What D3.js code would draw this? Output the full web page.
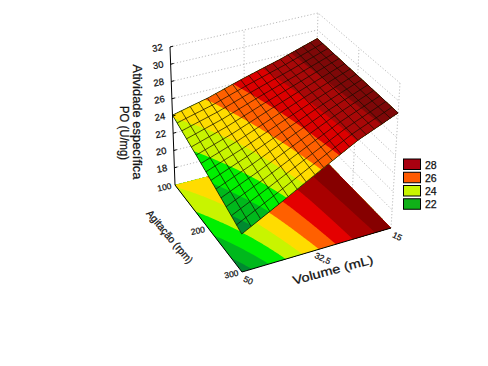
<!DOCTYPE html>
<html>
<head>
<meta charset="utf-8">
<script src="https://cdn.jsdelivr.net/npm/d3@7"></script>
<style>
  html, body { margin: 0; padding: 0; background: #fff; }
  svg { display: block; }
  text { font-family: "Liberation Sans", Arial, sans-serif; fill: #111; stroke: #111; stroke-width: 0.25; }
</style>
</head>
<body>
<script>
// values
var agitacao = [100, 200, 300];
var volume = [50, 41.25, 32.5, 23.75, 15];
var atividade = [
  [24.1, 25.1, 26.4, 27.6, 29.0],
  [22.3, 23.85, 25.6, 27.3, 28.85],
  [20.4, 22.6, 24.85, 27.05, 28.7]
];
var zTicks = [18, 20, 22, 24, 26, 28, 30, 32];
var agitTicks = [100, 200, 300];
var volTicks = [50, 32.5, 15];
var volTickLabels = ['50', '32,5', '15'];
var niveis = [0, 21, 22, 23, 24, 25, 26, 27, 28];
var cores = ['#008a30', '#00b81c', '#00f000', '#c8f400', '#ffdc00', '#ff6000', '#e40000', '#a80000', '#860000'];
var coresSuperficie = ['#008a30', '#00b81c', '#00f000', '#c8f400', '#ffdc00', '#ff6000', '#dc0000', '#a80808', '#7e0808'];
var legendaValores = [28, 26, 24, 22];
var legendaCores = ['#a80010', '#ff5a00', '#c8f400', '#10b018'];

var svg = d3.select('body').append('svg').attr('width', 488).attr('height', 366);

/**
 * box corners on screen, [agitacao 0/1][volume 0/1][z 0/1]
 */
var canto = {
  '000': [175, 185], '001': [170, 47],
  '010': [314, 149], '011': [318, 13],
  '100': [242, 272], '101': [241, 134],
  '110': [391, 228], '111': [400, 83]
};

var uScale = d3.scaleLinear().domain([100, 300]).range([0, 1]);
var vScale = d3.scaleLinear().domain([50, 15]).range([0, 1]);
var wScale = d3.scaleLinear().domain([16, 32]).range([0, 1]);

function project(a, v, z) {
  var u = uScale(a), t = vScale(v), w = wScale(z), p = [0, 0];
  d3.range(8).forEach(function (i) {
    var b = [i >> 2 & 1, i >> 1 & 1, i & 1];
    var k = (b[0] ? u : 1 - u) * (b[1] ? t : 1 - t) * (b[2] ? w : 1 - w);
    var c = canto[b.join('')];
    p[0] += k * c[0];
    p[1] += k * c[1];
  });
  return p;
}

var linhas = atividade.map(function (row) {
  return d3.scaleLinear().domain(volume).range(row);
});

function zAt(a, v) {
  return d3.scaleLinear().domain(agitacao).range(linhas.map(function (l) { return l(v); }))(a);
}

var line = d3.line();

/**
 * dotted walls
 */
function dotted(pts) {
  svg.append('path').attr('d', line(pts)).attr('fill', 'none')
    .attr('stroke', '#bcbcbc').attr('stroke-width', 1).attr('stroke-dasharray', '1.2,2');
}

zTicks.concat([16]).forEach(function (z) {
  dotted([project(100, 50, z), project(100, 15, z), project(300, 15, z)]);
});
dotted([project(100, 15, 16), project(100, 15, 32)]);
dotted([project(300, 15, 16), project(300, 15, 32)]);
dotted([project(100, 32.5, 16), project(100, 32.5, 32)]);
dotted([project(200, 15, 16), project(200, 15, 32)]);

/**
 * bands through d3.contours, on the floor and on the surface
 */
var n = 90;
var aGrid = d3.scaleLinear().domain([0.5, n - 0.5]).range([100, 300]).clamp(true);
var vGrid = d3.scaleLinear().domain([0.5, n - 0.5]).range([50, 15]).clamp(true);
var campo = [];
d3.range(n).forEach(function (j) {
  d3.range(n).forEach(function (i) {
    campo.push(zAt(aGrid(j + 0.5), vGrid(i + 0.5)));
  });
});
var bandas = d3.contours().size([n, n]).thresholds(niveis).smooth(true)(campo);

function bandPath(b, flat) {
  return b.coordinates.map(function (poly) {
    return poly.map(function (ring) {
      return line(ring.map(function (c) {
        var a = aGrid(c[1]), v = vGrid(c[0]);
        return project(a, v, flat ? 16 : zAt(a, v));
      })) + 'Z';
    }).join('');
  }).join('');
}

bandas.forEach(function (b, i) {
  svg.append('path').attr('d', bandPath(b, true)).attr('fill', cores[i]).attr('fill-rule', 'evenodd');
});

// black edges of the floor
svg.append('path')
  .attr('d', line([project(100, 50, 16), project(300, 50, 16), project(300, 15, 16)]))
  .attr('fill', 'none').attr('stroke', '#000').attr('stroke-width', 1);

bandas.forEach(function (b, i) {
  svg.append('path').attr('d', bandPath(b, false)).attr('fill', coresSuperficie[i]).attr('fill-rule', 'evenodd');
});

/**
 * mesh on the surface, cells get smaller toward the back
 */
var aMesh = d3.range(15).map(function (i) {
  var t = i / 14;
  return 100 + 200 * (0.92 * t + 0.08 * t * t);
});
var vMesh = d3.range(19).map(function (i) {
  var t = i / 18;
  return 50 - 35 * (1.13 * t - 0.13 * t * t);
});
var fino = d3.range(33).map(d3.scaleLinear().domain([0, 32]).range([0, 1]));
var meshD = '';
aMesh.forEach(function (a) {
  meshD += line(fino.map(function (f) {
    var v = 50 - 35 * f;
    return project(a, v, zAt(a, v));
  }));
});
vMesh.forEach(function (v) {
  meshD += line(fino.map(function (f) {
    var a = 100 + 200 * f;
    return project(a, v, zAt(a, v));
  }));
});
svg.append('path').attr('d', meshD).attr('fill', 'none')
  .attr('stroke', '#140c00').attr('stroke-width', 0.8).attr('stroke-opacity', 0.9);

/**
 * z axis
 */
svg.append('path').attr('d', line([project(100, 50, 16), project(100, 50, 32)]))
  .attr('fill', 'none').attr('stroke', '#000').attr('stroke-width', 1);

zTicks.forEach(function (z) {
  var p = project(100, 50, z);
  svg.append('path').attr('d', line([p, [p[0] + 3, p[1] - 0.8]])).attr('stroke', '#000');
  svg.append('text').text(z)
    .attr('transform', 'translate(' + (p[0] - 12) + ',' + (p[1] + 4) + ') rotate(-10)')
    .attr('text-anchor', 'middle').attr('font-size', 9.5);
});

/**
 * floor ticks and titles
 */
agitTicks.forEach(function (a) {
  var p = project(a, 50, 16);
  svg.append('text').text(a)
    .attr('transform', 'translate(' + (p[0] - 10) + ',' + (p[1] + 5) + ') rotate(-12)')
    .attr('text-anchor', 'middle').attr('font-size', 8.5);
});

volTicks.forEach(function (v, i) {
  var p = project(300, v, 16);
  svg.append('text').text(volTickLabels[i])
    .attr('transform', 'translate(' + (p[0] + 5) + ',' + (p[1] + 11) + ') rotate(25)')
    .attr('text-anchor', 'middle').attr('font-size', 8.5);
});

function titulo(t, x, y, rot, size, len) {
  svg.append('text').text(t)
    .attr('transform', 'translate(' + x + ',' + y + ') rotate(' + rot + ')')
    .attr('text-anchor', 'middle').attr('font-size', size)
    .attr('textLength', len).attr('lengthAdjust', 'spacingAndGlyphs');
}

titulo('Atividade específica', 133, 122, 90, 12.5, 115);
titulo('PO (U/mg)', 120, 133, 90, 12.5, 54);
titulo('Agitação (rpm)', 167, 239, 50, 10.5, 66);
titulo('Volume (mL)', 334, 274, -15, 12, 83);

/**
 * legend
 */
var legendaY = d3.scaleBand().domain(legendaValores).range([159, 212]);
legendaValores.forEach(function (d, i) {
  svg.append('rect').attr('x', 403.5).attr('y', legendaY(d))
    .attr('width', 17).attr('height', 10.5)
    .attr('fill', legendaCores[i]).attr('stroke', '#000');
  svg.append('text').text(d).attr('x', 425).attr('y', legendaY(d) + 9.5)
    .attr('font-size', 10.5);
});
</script>
</body>
</html>
